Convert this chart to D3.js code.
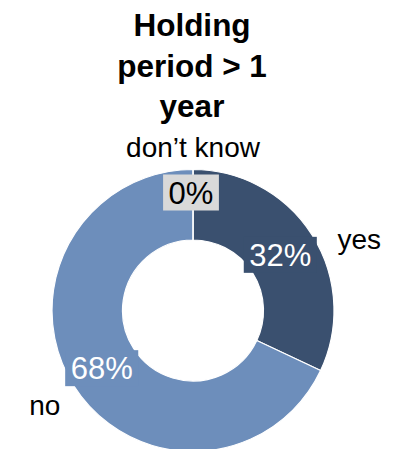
<!DOCTYPE html>
<html>
<head>
<meta charset="utf-8">
<script src="https://cdnjs.cloudflare.com/ajax/libs/d3/7.8.5/d3.min.js"></script>
<style>
  body { margin: 0; background: #fff; }
  text { font-family: "Liberation Sans", Arial, sans-serif; }
</style>
</head>
<body>
<div id="chart"></div>
<script>
// chart data
var titleLines = ["Holding", "period > 1", "year"];
var categories = ["yes", "no", "don\u2019t know"];
var values = [32, 68, 0];
var colors = ["#3a506f", "#6d8ebb", "#6d8ebb"];

var svgWidth = 401;
var svgHeight = 449;

var svg = d3.select("#chart")
    .append("svg")
    .attr("width", svgWidth)
    .attr("height", svgHeight);

// title
svg.append("text")
    .attr("text-anchor", "middle")
    .attr("font-weight", "bold")
    .attr("font-size", "31.5px")
    .selectAll("tspan")
    .data(titleLines)
    .enter()
    .append("tspan")
    .attr("x", 192)
    .attr("y", (d, i) => 36 + i * 40.5)
    .text(d => d);

var cx = 193, cy = 310.5;
var outerR = 141, innerR = 70.5;

var chartGroup = svg.append("g")
    .attr("transform", `translate(${cx}, ${cy})`);

var pie = d3.pie().sort(null).value(d => d);
var arcs = pie(values);

var arc = d3.arc().innerRadius(innerR).outerRadius(outerR);
var labelArc = d3.arc().innerRadius(111).outerRadius(127);

chartGroup.selectAll("path")
    .data(arcs)
    .enter()
    .append("path")
    .attr("d", arc)
    .attr("fill", (d, i) => colors[i])
    .attr("stroke", "#fff")
    .attr("stroke-width", 1.2);

// value labels with filled boxes
var labels = chartGroup.selectAll("g.lbl")
    .data(arcs)
    .enter()
    .append("g")
    .attr("class", "lbl")
    .attr("transform", function(d) {
        var c = d.value > 0 ? arc.centroid(d) : labelArc.centroid(d);
        return `translate(${c[0] - 2}, ${c[1] + 1})`;
    });

labels.each(function(d, i) {
    var g = d3.select(this);
    var rect = g.append("rect");
    var t = g.append("text")
        .attr("text-anchor", "middle")
        .attr("dy", "0.36em")
        .attr("font-size", "31px")
        .attr("fill", d.value > 0 ? "#fff" : "#000")
        .text(d3.format(".0%")(d.value / 100));
    var bb = t.node().getBBox();
    var padX = 5.5;
    rect.attr("x", bb.x - padX)
        .attr("y", -18)
        .attr("width", bb.width + 2 * padX)
        .attr("height", 36)
        .attr("fill", d.value > 0 ? colors[i] : "#d9d9d9");
});

// category labels, offset from the arc centroid
var catOffset = [[77, -15], [-59, 38], [0, -58]];
chartGroup.selectAll("text.cat")
    .data(arcs)
    .enter()
    .append("text")
    .attr("class", "cat")
    .attr("text-anchor", "middle")
    .attr("font-size", "28px")
    .attr("x", (d, i) => arc.centroid(d)[0] + catOffset[i][0])
    .attr("y", (d, i) => arc.centroid(d)[1] + catOffset[i][1])
    .attr("dy", "0.35em")
    .text((d, i) => categories[i]);
</script>
</body>
</html>
